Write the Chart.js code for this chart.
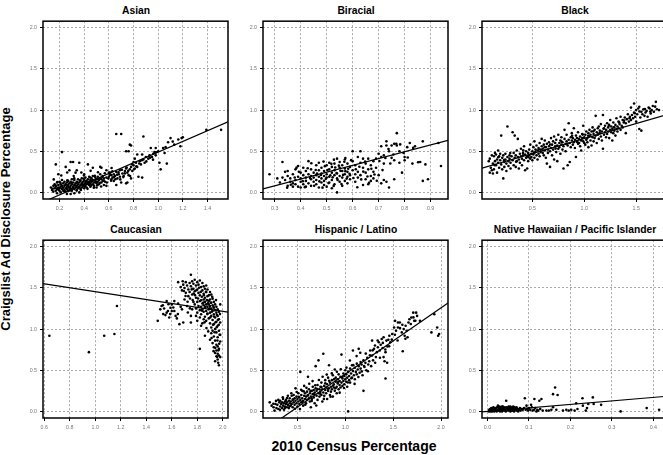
<!DOCTYPE html>
<html>
<head>
<meta charset="utf-8">
<script src="https://cdn.jsdelivr.net/npm/chart.js@4.4.0/dist/chart.umd.min.js"></script>
<style>
  body { margin: 0; width: 663px; height: 455px; overflow: hidden; background: #fff; position: relative;
         font-family: "Liberation Sans", Arial, sans-serif; }
  canvas { position: absolute; }
  .title { position: absolute; width: 186px; text-align: center; font-weight: bold; font-size: 10.3px; line-height: 12px; white-space: nowrap; }
  .xlab { position: absolute; left: 0; width: 708px; top: 438px; text-align: center; font-weight: bold; font-size: 14px; line-height: 16px; }
  .ylab { position: absolute; width: 400px; height: 16px; left: -194.5px; top: 211px; text-align: center; font-weight: bold;
          font-size: 13px; line-height: 16px; transform: rotate(-90deg); white-space: nowrap; }
</style>
</head>
<body>
<script>
// points: [census %, ad disclosure %]
const asianPts = [
  [0.13,0.06],[0.14,0.03],[0.15,0.08],[0.15,0.01],[0.16,0.05],[0.16,0.10],[0.17,0.02],[0.17,0.07],[0.18,0.04],[0.18,0.12],
  [0.18,-0.01],[0.19,0.06],[0.19,0.09],[0.20,0.02],[0.20,0.05],[0.20,0.13],[0.21,0.07],[0.21,0.00],[0.21,0.10],[0.22,0.04],
  [0.22,0.08],[0.22,0.15],[0.23,0.02],[0.23,0.06],[0.23,0.11],[0.24,0.03],[0.24,0.08],[0.24,0.13],[0.25,0.05],[0.25,0.10],
  [0.25,0.01],[0.26,0.07],[0.26,0.12],[0.26,0.04],[0.27,0.09],[0.27,0.02],[0.27,0.14],[0.28,0.06],[0.28,0.11],[0.28,0.03],
  [0.29,0.08],[0.29,0.13],[0.29,0.05],[0.30,0.10],[0.30,0.02],[0.30,0.16],[0.26,-0.02],[0.32,-0.01],[0.36,0.00],[0.29,-0.02],
  [0.31,0.07],[0.31,0.12],[0.32,0.04],[0.32,0.09],[0.32,0.15],[0.33,0.06],[0.33,0.11],[0.34,0.03],[0.34,0.13],[0.34,0.08],
  [0.35,0.10],[0.35,0.05],[0.35,0.16],[0.36,0.07],[0.36,0.12],[0.37,0.09],[0.37,0.04],[0.37,0.14],[0.38,0.11],[0.38,0.06],
  [0.38,0.17],[0.39,0.08],[0.39,0.13],[0.40,0.10],[0.40,0.05],[0.40,0.15],[0.41,0.12],[0.41,0.08],[0.41,0.18],[0.42,0.10],
  [0.42,0.14],[0.42,0.06],[0.43,0.12],[0.43,0.16],[0.44,0.09],[0.44,0.13],[0.44,0.19],[0.45,0.11],[0.45,0.15],[0.45,0.07],
  [0.46,0.13],[0.46,0.17],[0.47,0.10],[0.47,0.15],[0.47,0.20],[0.48,0.12],[0.48,0.08],[0.49,0.14],[0.49,0.18],[0.50,0.11],
  [0.50,0.16],[0.50,0.06],[0.51,0.13],[0.51,0.19],[0.52,0.15],[0.52,0.10],[0.53,0.17],[0.53,0.22],[0.54,0.12],[0.54,0.16],
  [0.55,0.14],[0.55,0.20],[0.56,0.09],[0.56,0.17],[0.57,0.13],[0.58,0.18],[0.58,0.08],[0.60,0.19],[0.61,0.24],[0.62,0.16],
  [0.62,0.21],[0.63,0.18],[0.64,0.22],[0.64,0.14],[0.65,0.20],[0.66,0.25],[0.66,0.09],[0.67,0.17],[0.68,0.22],[0.69,0.19],
  [0.69,0.27],[0.70,0.12],[0.71,0.23],[0.72,0.20],[0.73,0.26],[0.74,0.11],[0.74,0.29],[0.75,0.24],[0.76,0.21],[0.77,0.28],
  [0.78,0.31],[0.79,0.26],[0.80,0.33],[0.81,0.29],[0.82,0.36],[0.83,0.31],[0.84,0.19],[0.85,0.38],[0.86,0.34],[0.87,0.18],
  [0.88,0.40],[0.89,0.36],[0.90,0.43],[0.92,0.41],[0.93,0.45],[0.95,0.43],[0.96,0.47],[0.97,0.49],[0.98,0.45],[1.00,0.50],
  [1.01,0.36],[1.02,0.28],[1.04,0.54],[1.07,0.35],[1.06,0.55],[1.08,0.61],[1.10,0.66],[1.13,0.58],[1.18,0.56],[1.19,0.66],
  [1.20,0.67],[1.39,0.76],[1.51,0.76],[0.17,0.34],[0.22,0.49],[0.19,0.22],[0.25,0.31],[0.28,0.27],[0.29,0.37],[0.31,0.37],
  [0.33,0.24],[0.34,0.27],[0.36,0.36],[0.40,0.22],[0.43,0.34],[0.47,0.30],[0.53,0.31],[0.54,0.30],[0.58,0.27],[0.60,0.24],
  [0.66,0.71],[0.70,0.71],[0.88,0.68],[0.78,0.57],[0.77,0.58],[0.74,0.50],[0.76,0.50],[0.83,0.46],[0.87,0.46],[0.94,0.54],
  [0.98,0.54],[0.80,0.37],[0.81,0.41],[0.75,0.12],[0.78,0.17],
  [0.143,0.045],[0.167,0.088],[0.192,0.031],[0.207,0.118],[0.226,0.057],[0.238,0.019],[0.251,0.093],[0.263,0.146],[0.274,0.061],[0.286,0.024],
  [0.297,0.117],[0.308,0.052],[0.319,0.171],[0.327,0.084],[0.339,0.022],[0.346,0.121],[0.358,0.064],[0.366,0.147],[0.373,0.029],[0.384,0.092],
  [0.396,0.168],[0.404,0.071],[0.413,0.135],[0.427,0.043],[0.436,0.104],[0.448,0.182],[0.457,0.085],[0.466,0.139],[0.478,0.057],[0.486,0.201],
  [0.497,0.126],[0.507,0.088],[0.516,0.162],[0.528,0.118],[0.537,0.071],[0.546,0.189],[0.559,0.143],[0.567,0.232],[0.584,0.121],[0.596,0.168],
  [0.607,0.213],[0.618,0.142],[0.629,0.257],[0.641,0.186],[0.653,0.161],[0.667,0.214],[0.678,0.243],[0.693,0.158],[0.706,0.276],[0.717,0.186],
  [0.729,0.231],[0.744,0.302],[0.757,0.262],[0.772,0.199],[0.788,0.344],[0.804,0.281],[0.823,0.318],[0.846,0.352],[0.867,0.392],[0.904,0.377],
  [0.934,0.422],[0.958,0.398],[0.982,0.488],[1.052,0.479],[1.118,0.617],[1.163,0.642],[0.214,0.205],[0.262,0.241],[0.377,0.241],[0.452,0.262],
  [0.512,0.245],[0.153,0.158],[0.183,0.127],[0.315,0.198],[0.398,0.205],[0.622,0.297]
];

const biracialPts = [
  [0.28,0.22],[0.31,0.17],[0.32,0.12],[0.33,0.37],[0.33,0.18],[0.34,0.15],[0.34,0.25],[0.35,0.08],[0.35,0.20],[0.35,0.26],
  [0.36,0.13],[0.36,0.17],[0.37,0.07],[0.37,0.22],[0.37,0.11],[0.38,0.15],[0.38,0.28],[0.38,0.10],[0.39,0.07],[0.39,0.19],
  [0.39,0.32],[0.40,0.13],[0.40,0.24],[0.40,0.06],[0.40,0.17],[0.41,0.30],[0.41,0.10],[0.41,0.21],[0.42,0.14],[0.42,0.26],
  [0.42,0.07],[0.42,0.18],[0.43,0.38],[0.43,0.22],[0.43,0.11],[0.44,0.16],[0.44,0.28],[0.44,0.20],[0.44,0.08],[0.45,0.13],
  [0.45,0.24],[0.45,0.18],[0.46,0.33],[0.46,0.10],[0.46,0.21],[0.46,0.15],[0.47,0.27],[0.47,0.06],[0.47,0.19],[0.47,0.36],
  [0.48,0.12],[0.48,0.23],[0.48,0.17],[0.48,0.30],[0.49,0.09],[0.49,0.20],[0.49,0.26],[0.49,0.14],[0.50,0.33],[0.50,0.18],
  [0.50,0.22],[0.50,0.07],[0.51,0.28],[0.51,0.12],[0.51,0.36],[0.51,0.19],[0.52,0.24],[0.52,0.15],[0.52,0.31],[0.52,0.05],
  [0.53,0.21],[0.53,0.35],[0.53,0.10],[0.53,0.27],[0.54,0.17],[0.54,0.41],[0.54,0.00],[0.54,0.23],[0.55,0.30],[0.55,0.13],
  [0.55,0.37],[0.55,0.20],[0.56,0.26],[0.56,0.08],[0.56,0.33],[0.56,0.18],[0.57,0.22],[0.57,0.40],[0.57,0.14],[0.57,0.29],
  [0.58,0.19],[0.58,0.35],[0.58,0.25],[0.58,0.11],[0.59,0.31],[0.59,0.21],[0.59,0.16],[0.60,0.27],[0.60,0.50],[0.60,0.38],
  [0.61,0.22],[0.61,0.13],[0.61,0.33],[0.62,0.43],[0.62,0.25],[0.62,0.18],[0.63,0.50],[0.63,0.36],[0.63,0.21],[0.64,0.30],
  [0.64,0.09],[0.64,0.41],[0.65,0.24],[0.65,0.35],[0.65,0.16],[0.66,0.41],[0.66,0.28],[0.66,0.10],[0.67,0.20],[0.67,0.33],
  [0.67,0.14],[0.68,0.38],[0.68,0.25],[0.68,0.17],[0.69,0.30],[0.69,0.41],[0.70,0.21],[0.70,0.47],[0.71,0.43],[0.71,0.11],
  [0.71,0.56],[0.72,0.35],[0.72,0.15],[0.72,0.45],[0.73,0.62],[0.73,0.57],[0.73,0.13],[0.74,0.06],[0.74,0.50],[0.75,0.57],
  [0.75,0.42],[0.76,0.39],[0.76,0.16],[0.76,0.59],[0.77,0.72],[0.77,0.57],[0.78,0.36],[0.78,0.50],[0.79,0.24],[0.80,0.43],
  [0.80,0.39],[0.81,0.55],[0.82,0.60],[0.83,0.35],[0.84,0.56],[0.86,0.37],[0.87,0.62],[0.87,0.14],[0.88,0.34],[0.89,0.16],
  [0.93,0.60],[0.94,0.32],
  [0.362,0.094],[0.377,0.182],[0.393,0.251],[0.408,0.137],[0.416,0.064],[0.427,0.293],[0.436,0.175],[0.452,0.081],[0.458,0.272],[0.463,0.229],
  [0.472,0.134],[0.478,0.213],[0.484,0.058],[0.493,0.319],[0.497,0.165],[0.503,0.271],[0.507,0.113],[0.514,0.208],[0.518,0.347],[0.523,0.183],
  [0.527,0.079],[0.533,0.302],[0.538,0.236],[0.542,0.152],[0.547,0.325],[0.553,0.262],[0.557,0.101],[0.563,0.213],[0.568,0.372],[0.572,0.258],
  [0.577,0.168],[0.583,0.288],[0.588,0.226],[0.594,0.392],[0.603,0.175],[0.612,0.281],[0.618,0.062],[0.626,0.312],[0.633,0.158],[0.641,0.253],
  [0.648,0.374],[0.657,0.194],[0.663,0.116],[0.672,0.287],[0.684,0.218],[0.693,0.142],[0.703,0.381],[0.715,0.271],[0.726,0.418],[0.738,0.527],
  [0.745,0.352],[0.757,0.461],[0.768,0.592],[0.783,0.583],[0.796,0.478],[0.812,0.425],[0.833,0.541],[0.852,0.367],[0.348,0.058],[0.384,0.301],
  [0.441,0.354],[0.488,0.374],[0.528,0.398],[0.572,0.418]
];

const blackPts = [
  [0.08,0.38],[0.09,0.24],[0.09,0.41],[0.10,0.30],[0.11,0.27],[0.11,0.45],[0.12,0.35],[0.12,0.23],[0.13,0.44],[0.13,0.28],
  [0.14,0.38],[0.14,0.48],[0.15,0.33],[0.15,0.46],[0.16,0.24],[0.16,0.40],[0.17,0.51],[0.17,0.36],[0.18,0.44],[0.18,0.30],
  [0.19,0.47],[0.19,0.39],[0.20,0.69],[0.20,0.34],[0.21,0.42],[0.21,0.28],[0.22,0.17],[0.22,0.45],[0.23,0.37],[0.23,0.31],
  [0.24,0.40],[0.24,0.47],[0.25,0.35],[0.25,0.26],[0.26,0.80],[0.26,0.43],[0.27,0.38],[0.27,0.32],[0.28,0.45],[0.28,0.41],
  [0.29,0.29],[0.29,0.36],[0.30,0.44],[0.31,0.73],[0.31,0.39],[0.32,0.33],[0.32,0.48],[0.33,0.69],[0.33,0.42],[0.34,0.31],
  [0.34,0.45],[0.35,0.38],[0.35,0.51],[0.36,0.65],[0.36,0.43],[0.37,0.40],[0.37,0.29],[0.38,0.47],[0.38,0.36],[0.39,0.44],
  [0.39,0.53],[0.40,0.41],[0.40,0.33],[0.41,0.48],[0.41,0.45],[0.42,0.39],[0.42,0.56],[0.43,0.27],[0.43,0.46],[0.44,0.42],
  [0.44,0.50],[0.45,0.29],[0.45,0.44],[0.46,0.48],[0.46,0.38],[0.47,0.52],[0.47,0.45],[0.48,0.41],[0.48,0.58],[0.49,0.47],
  [0.49,0.43],[0.50,0.50],[0.50,0.39],[0.51,0.55],[0.51,0.46],[0.52,0.42],[0.52,0.62],[0.53,0.49],[0.53,0.52],[0.54,0.45],
  [0.54,0.57],[0.55,0.40],[0.55,0.51],[0.56,0.54],[0.56,0.47],[0.57,0.60],[0.57,0.44],[0.58,0.52],[0.58,0.49],[0.59,0.56],
  [0.59,0.65],[0.60,0.48],[0.60,0.53],[0.61,0.58],[0.61,0.45],[0.62,0.51],[0.62,0.63],[0.63,0.55],[0.63,0.42],[0.64,0.35],
  [0.64,0.59],[0.65,0.52],[0.65,0.48],[0.66,0.61],[0.66,0.56],[0.67,0.31],[0.67,0.50],[0.68,0.66],[0.68,0.54],[0.69,0.58],
  [0.69,0.45],[0.70,0.62],[0.70,0.52],[0.71,0.68],[0.71,0.40],[0.72,0.56],[0.72,0.60],[0.73,0.49],[0.73,0.64],[0.74,0.57],
  [0.74,0.38],[0.75,0.53],[0.75,0.70],[0.76,0.60],[0.76,0.55],[0.77,0.47],[0.77,0.63],[0.78,0.58],[0.78,0.67],[0.79,0.52],
  [0.79,0.61],[0.80,0.29],[0.80,0.56],[0.81,0.65],[0.81,0.76],[0.82,0.59],[0.82,0.50],[0.83,0.62],[0.83,0.70],[0.84,0.57],
  [0.84,0.33],[0.85,0.64],[0.85,0.84],[0.86,0.60],[0.86,0.37],[0.87,0.67],[0.87,0.55],[0.88,0.63],[0.88,0.72],[0.89,0.58],
  [0.89,0.66],[0.90,0.61],[0.90,0.78],[0.91,0.64],[0.91,0.54],[0.92,0.69],[0.92,0.43],[0.93,0.62],[0.93,0.66],[0.94,0.59],
  [0.94,0.73],[0.95,0.65],[0.95,0.60],[0.96,0.68],[0.96,0.56],[0.97,0.63],[0.97,0.51],[0.98,0.71],[0.98,0.66],[0.99,0.62],
  [0.99,0.81],[1.00,0.67],[1.00,0.60],[1.01,0.70],[1.01,0.58],[1.02,0.64],[1.02,0.74],[1.03,0.66],[1.03,0.61],[1.04,0.72],
  [1.04,0.55],[1.05,0.68],[1.05,0.76],[1.06,0.63],[1.06,0.70],[1.07,0.57],[1.07,0.74],[1.08,0.67],[1.08,0.79],[1.09,0.71],
  [1.09,0.62],[1.10,0.76],[1.10,0.66],[1.11,0.93],[1.11,0.69],[1.12,0.73],[1.12,0.60],[1.13,0.78],[1.13,0.70],[1.14,0.65],
  [1.14,0.80],[1.15,0.72],[1.15,0.75],[1.16,0.68],[1.16,0.83],[1.17,0.74],[1.17,0.63],[1.18,0.94],[1.18,0.53],[1.19,0.78],
  [1.19,0.70],[1.20,0.81],[1.20,0.73],[1.21,0.67],[1.21,0.76],[1.22,0.84],[1.22,0.71],[1.23,0.79],[1.23,0.74],[1.24,0.66],
  [1.24,0.82],[1.25,0.76],[1.25,0.88],[1.26,0.73],[1.26,0.80],[1.27,0.63],[1.27,0.77],[1.28,0.85],[1.28,0.72],[1.29,0.79],
  [1.29,0.75],[1.30,0.82],[1.30,0.69],[1.31,0.77],[1.31,0.90],[1.32,0.80],[1.32,0.74],[1.33,0.86],[1.33,0.78],[1.34,0.83],
  [1.35,0.76],[1.35,0.92],[1.36,0.81],[1.37,0.88],[1.37,0.79],[1.38,0.85],[1.39,0.91],[1.40,0.72],[1.40,0.84],[1.41,0.89],
  [1.42,0.95],[1.43,0.86],[1.44,0.92],[1.45,1.03],[1.45,0.88],[1.46,0.94],[1.47,0.90],[1.48,1.08],[1.48,0.97],[1.49,0.92],
  [1.50,1.00],[1.50,0.86],[1.51,0.95],[1.52,1.02],[1.53,1.04],[1.53,0.77],[1.54,0.91],[1.55,0.75],[1.55,0.98],[1.56,0.95],
  [1.57,1.01],[1.58,0.93],[1.59,0.97],[1.60,0.99],[1.61,0.92],[1.62,1.03],[1.63,1.02],[1.64,0.96],[1.65,1.00],[1.66,1.05],
  [1.67,0.98],[1.69,1.10],[1.70,1.01],[1.72,1.00],
  [0.136,0.332],[0.172,0.428],[0.228,0.392],[0.287,0.478],[0.343,0.372],[0.412,0.512],[0.463,0.428],[0.517,0.482],[0.563,0.522],[0.618,0.548],
  [0.672,0.582],[0.724,0.532],[0.781,0.618],[0.836,0.592],[0.883,0.688],[0.932,0.612],[0.986,0.702],[1.038,0.688],[1.087,0.742],[1.136,0.712],
  [1.186,0.772],[1.238,0.812],[1.283,0.792],[1.336,0.852],[1.384,0.872],[1.436,0.902],[1.486,0.962],[1.532,0.982],[1.584,1.012],[1.636,0.982],
  [1.683,1.042]
];

const caucasianPts = [
  [0.64,0.92],[0.95,0.72],[1.07,0.92],[1.15,0.94],[1.17,1.28],
  [1.49,1.10],[1.51,1.24],[1.53,1.29],[1.54,1.25],[1.55,1.17],[1.56,1.34],[1.57,1.22],[1.58,1.14],[1.59,1.26],[1.60,1.22],
  [1.62,1.34],[1.62,1.22],[1.63,1.16],[1.64,1.13],[1.66,1.06],[1.69,1.08],[1.70,1.36],[1.72,1.28],[1.75,1.08],[1.75,1.16],
  [1.76,1.24],[1.77,1.33],[1.52,1.28],[1.56,1.20],[1.60,1.30],[1.65,1.31],[1.67,1.27],[1.68,1.24],
  [1.65,1.57],[1.67,1.51],[1.68,1.47],[1.69,1.54],[1.70,1.50],[1.71,1.44],[1.71,1.57],[1.72,1.53],[1.73,1.48],[1.73,1.40],
  [1.74,1.56],[1.74,1.45],[1.75,1.66],[1.75,1.52],[1.76,1.58],[1.76,1.42],[1.77,1.49],[1.77,1.55],[1.78,1.60],[1.78,1.46],
  [1.79,1.53],[1.79,1.38],[1.80,1.57],[1.80,1.48],[1.81,1.44],[1.81,1.54],[1.82,1.59],[1.82,1.41],[1.83,1.51],[1.83,1.35],
  [1.84,1.47],[1.84,1.56],[1.85,1.43],[1.85,1.52],[1.86,1.38],[1.86,1.49],[1.87,1.45],[1.87,1.53],[1.88,1.40],[1.88,1.48],
  [1.89,1.34],[1.90,1.45],[1.91,1.42],
  [1.78,1.30],[1.79,1.25],[1.80,1.33],[1.80,1.20],[1.81,1.28],[1.82,1.23],[1.82,1.34],[1.83,1.27],[1.83,1.18],[1.84,1.31],
  [1.84,1.24],[1.85,1.36],[1.85,1.21],[1.85,1.29],[1.86,1.26],[1.86,1.15],[1.86,1.33],[1.87,1.22],[1.87,1.30],[1.87,1.10],
  [1.88,1.27],[1.88,1.19],[1.88,1.35],[1.89,1.24],[1.89,1.30],[1.89,1.13],[1.90,1.28],[1.90,1.20],[1.90,1.36],[1.90,1.07],
  [1.91,1.25],[1.91,1.32],[1.91,1.16],[1.91,1.02],[1.92,1.29],[1.92,1.22],[1.92,1.11],[1.92,1.37],[1.93,1.26],[1.93,1.18],
  [1.93,1.06],[1.93,1.33],[1.94,1.23],[1.94,1.14],[1.94,1.00],[1.94,1.30],[1.95,1.20],[1.95,1.09],[1.95,1.27],[1.95,0.96],
  [1.96,1.16],[1.96,1.24],[1.96,1.04],[1.96,0.90],[1.97,1.12],[1.97,1.21],[1.97,0.98],[1.98,1.08],[1.98,1.30],
  [1.86,0.92],[1.82,0.76],[1.90,0.87],[1.91,0.95],[1.92,0.83],[1.92,0.98],[1.93,0.78],[1.93,0.91],[1.94,0.71],[1.94,0.86],
  [1.94,0.61],[1.95,0.81],[1.95,0.74],[1.95,0.67],[1.96,0.79],[1.96,0.70],[1.96,0.63],[1.97,0.56],[1.97,0.76],[1.97,0.68],
  [1.98,0.66],[1.98,0.85],[1.98,0.93],[1.80,1.10],[1.82,1.14],[1.84,1.07],[1.85,1.12],[1.83,1.04],[1.79,1.16],
  [1.782,1.412],[1.793,1.472],[1.806,1.372],[1.814,1.502],[1.827,1.452],[1.836,1.392],[1.848,1.322],[1.852,1.412],[1.863,1.272],[1.868,1.452],
  [1.874,1.352],[1.879,1.182],[1.884,1.312],[1.893,1.412],[1.897,1.252],[1.902,1.142],[1.906,1.322],[1.914,1.212],[1.917,1.392],[1.923,1.052],
  [1.927,1.272],[1.932,1.152],[1.936,0.962],[1.938,1.232],[1.943,1.082],[1.947,1.352],[1.952,1.022],[1.954,1.172],[1.958,0.862],[1.962,1.112],
  [1.966,0.742],[1.969,1.052],[1.972,0.822],[1.975,0.932],[1.978,1.182],[1.743,1.372],[1.756,1.482],[1.764,1.352],[1.772,1.432],[1.724,1.332],
  [1.708,1.402],[1.694,1.462],[1.686,1.582],[1.838,1.222],[1.857,1.082],[1.872,1.012],[1.886,0.972],[1.912,0.892],[1.928,0.732],[1.941,0.772],
  [1.956,0.662],[1.964,0.592],[1.588,1.182],[1.612,1.262],[1.648,1.182],[1.726,1.202],[1.742,1.252],[1.574,1.302],[1.533,1.182]
];

const hispanicPts = [
  [0.21,0.11],[0.23,0.07],[0.25,0.05],[0.26,0.01],[0.27,0.09],[0.28,0.04],[0.29,0.08],[0.30,0.14],[0.30,0.03],[0.31,0.11],
  [0.32,0.06],[0.32,0.13],[0.33,0.09],[0.34,0.04],[0.34,0.11],[0.35,0.15],[0.35,0.07],[0.36,0.10],[0.36,0.02],[0.37,0.12],
  [0.37,0.06],[0.38,0.09],[0.38,0.14],[0.39,0.05],[0.39,0.11],[0.40,0.08],[0.40,0.19],[0.41,0.13],[0.41,0.04],[0.42,0.10],
  [0.42,0.16],[0.43,0.07],[0.43,0.12],[0.44,0.19],[0.44,0.09],[0.45,0.14],[0.45,0.05],[0.46,0.11],[0.46,0.20],[0.47,0.16],
  [0.47,0.08],[0.48,0.13],[0.48,0.28],[0.49,0.10],[0.49,0.18],[0.50,0.15],[0.50,0.06],[0.51,0.12],[0.51,0.22],[0.52,0.17],
  [0.52,0.09],[0.53,0.14],[0.53,0.48],[0.54,0.20],[0.54,0.11],[0.55,0.16],[0.55,0.25],[0.56,0.13],[0.56,0.07],[0.57,0.19],
  [0.57,0.31],[0.58,0.15],[0.58,0.22],[0.59,0.10],[0.59,0.18],[0.60,0.24],[0.60,0.14],[0.61,0.20],[0.61,0.42],[0.62,0.16],
  [0.62,0.27],[0.63,0.12],[0.63,0.22],[0.64,0.18],[0.64,0.05],[0.65,0.25],[0.65,0.15],[0.66,0.21],[0.66,0.30],[0.67,0.17],
  [0.67,0.26],[0.68,0.23],[0.68,0.10],[0.69,0.28],[0.69,0.55],[0.70,0.19],[0.70,0.25],[0.71,0.32],[0.71,0.14],[0.72,0.62],
  [0.72,0.22],[0.73,0.27],[0.73,0.18],[0.74,0.30],[0.74,0.24],[0.75,0.20],[0.75,0.35],[0.76,0.27],[0.76,0.12],[0.77,0.70],
  [0.77,0.23],[0.78,0.31],[0.78,0.19],[0.79,0.26],[0.79,0.38],[0.80,0.22],[0.80,0.29],[0.81,0.33],[0.81,0.15],[0.82,0.25],
  [0.82,0.41],[0.83,0.28],[0.83,0.56],[0.84,0.20],[0.84,0.35],[0.85,0.30],[0.85,0.24],[0.86,0.38],[0.86,0.27],[0.87,0.44],
  [0.87,0.18],[0.88,0.33],[0.88,0.29],[0.89,0.51],[0.89,0.25],[0.90,0.36],[0.90,0.41],[0.91,0.30],[0.91,0.22],[0.92,0.39],
  [0.92,0.34],[0.93,0.45],[0.93,0.27],[0.94,0.37],[0.94,0.32],[0.95,0.42],[0.95,0.29],[0.96,0.69],[0.96,0.35],[0.97,0.40],
  [0.97,0.31],[0.98,0.46],[0.98,0.37],[0.99,0.33],[0.99,0.43],[1.00,0.39],[1.00,0.50],[1.01,0.36],[1.01,0.45],[1.02,0.41],
  [1.02,0.30],[1.03,0.00],[1.03,0.48],[1.04,0.43],[1.04,0.38],[1.05,0.52],[1.05,0.35],[1.06,0.46],[1.07,0.41],[1.07,0.56],
  [1.08,0.74],[1.08,0.49],[1.09,0.44],[1.10,0.53],[1.10,0.39],[1.11,0.48],[1.12,0.58],[1.12,0.45],[1.13,0.51],[1.14,0.76],
  [1.14,0.55],[1.15,0.47],[1.16,0.60],[1.16,0.52],[1.17,0.57],[1.18,0.44],[1.19,0.25],[1.19,0.62],[1.20,0.54],[1.21,0.59],
  [1.22,0.50],[1.23,0.65],[1.24,0.57],[1.25,0.61],[1.26,0.74],[1.27,0.55],[1.28,0.86],[1.28,0.68],[1.29,0.62],[1.30,0.76],
  [1.31,0.80],[1.32,0.66],[1.33,0.72],[1.34,0.78],[1.35,0.84],[1.36,0.74],[1.37,0.81],[1.38,0.88],[1.39,0.77],[1.40,0.66],
  [1.40,0.90],[1.41,0.61],[1.42,0.40],[1.42,0.72],[1.43,0.86],[1.44,0.79],[1.45,0.87],[1.46,0.92],[1.47,0.84],[1.49,0.94],
  [1.51,1.02],[1.52,1.10],[1.53,0.98],[1.55,1.08],[1.55,1.02],[1.57,1.08],[1.59,0.96],[1.60,0.73],[1.61,1.00],[1.62,0.92],
  [1.63,1.04],[1.64,0.98],[1.65,0.90],[1.66,1.08],[1.67,1.12],[1.69,1.14],[1.71,1.20],[1.72,1.10],[1.74,1.20],[1.75,1.16],
  [1.78,1.10],[1.90,0.96],[1.93,1.18],[1.96,1.02],[1.98,0.94],[1.97,0.92],
  [0.248,0.093],[0.276,0.128],[0.318,0.021],[0.347,0.172],[0.368,0.041],[0.392,0.163],[0.418,0.062],[0.436,0.221],[0.456,0.148],[0.473,0.032],
  [0.492,0.236],[0.514,0.177],[0.526,0.028],[0.538,0.262],[0.553,0.119],[0.566,0.243],[0.582,0.081],[0.594,0.286],[0.608,0.192],[0.623,0.336],
  [0.637,0.246],[0.649,0.128],[0.658,0.368],[0.674,0.212],[0.686,0.318],[0.697,0.071],[0.709,0.273],[0.724,0.382],[0.738,0.216],[0.751,0.296],
  [0.763,0.421],[0.776,0.152],[0.791,0.342],[0.806,0.447],[0.818,0.276],[0.831,0.372],[0.846,0.178],[0.859,0.462],[0.873,0.312],[0.884,0.392],
  [0.897,0.282],[0.912,0.482],[0.926,0.358],[0.941,0.228],[0.953,0.512],[0.968,0.418],[0.986,0.284],[1.012,0.532],[1.026,0.352],[1.048,0.618],
  [1.064,0.402],[1.083,0.562],[1.097,0.334],[1.118,0.672],[1.137,0.418],[1.156,0.712],[1.172,0.486],[1.196,0.552],[1.214,0.702],[1.236,0.488],
  [1.257,0.682],[1.286,0.742],[1.312,0.592],[1.338,0.862],[1.362,0.652],[1.392,0.832],[1.418,0.752],[1.437,0.592],[1.458,0.792],[1.486,0.872],
  [1.518,0.932],[1.546,0.862],[1.572,1.012],[1.596,1.052],[1.628,0.882],[1.684,1.062],[1.712,1.142],[1.732,1.102]
];

const nhpiPts = [
  [0.003,0.00],[0.004,0.02],[0.005,0.01],[0.006,0.03],[0.007,0.00],[0.008,0.02],[0.009,0.04],[0.010,0.01],[0.011,0.00],[0.012,0.03],
  [0.013,0.02],[0.014,0.05],[0.015,0.01],[0.016,0.00],[0.017,0.03],[0.018,0.02],[0.019,0.04],[0.020,0.01],[0.021,0.03],[0.022,0.00],
  [0.023,0.05],[0.024,0.02],[0.025,0.07],[0.026,0.01],[0.027,0.04],[0.028,0.02],[0.029,0.06],[0.030,0.03],[0.031,0.01],[0.032,0.05],
  [0.033,0.02],[0.034,0.04],[0.035,0.00],[0.036,0.03],[0.037,0.06],[0.038,0.02],[0.039,0.04],[0.040,0.01],[0.041,0.03],[0.042,0.05],
  [0.043,0.02],[0.044,0.00],[0.045,0.13],[0.046,0.03],[0.047,0.05],[0.048,0.02],[0.049,0.04],[0.050,0.01],[0.051,0.06],[0.052,0.03],
  [0.053,0.02],[0.054,0.04],[0.055,0.00],[0.056,0.05],[0.057,0.03],[0.058,0.01],[0.060,0.04],[0.061,0.02],[0.062,0.06],[0.063,0.03],
  [0.064,0.00],[0.065,0.05],[0.066,0.02],[0.068,0.04],[0.070,0.01],[0.072,0.03],[0.074,0.00],[0.076,0.02],[0.078,0.04],[0.080,0.01],
  [0.082,0.03],[0.085,0.02],[0.088,0.04],[0.090,0.16],[0.092,0.02],[0.094,0.07],[0.096,0.03],[0.098,0.01],[0.100,0.04],[0.103,0.02],
  [0.105,0.08],[0.107,0.05],[0.109,0.01],[0.112,0.02],[0.113,0.15],[0.115,0.04],[0.118,0.00],[0.120,0.02],[0.122,0.01],[0.125,0.13],
  [0.127,0.03],[0.130,0.15],[0.133,0.01],[0.142,0.01],[0.148,0.01],[0.154,0.02],[0.158,0.05],[0.158,0.21],[0.163,0.29],[0.166,0.02],
  [0.169,0.20],[0.182,0.01],[0.190,0.02],[0.196,0.01],[0.202,0.02],[0.210,0.01],[0.214,0.10],[0.217,0.03],[0.229,0.16],[0.230,0.07],
  [0.237,0.01],[0.240,0.04],[0.243,0.09],[0.254,0.17],[0.256,0.09],[0.274,0.08],[0.321,0.00],[0.384,0.04],[0.414,0.02],
  [0.015,0.04],[0.020,0.02],[0.030,0.00],[0.035,0.06],[0.050,0.03],[0.055,0.06],[0.060,0.01],[0.065,0.03],[0.070,0.05],[0.075,0.02],
  [0.028,0.05]
];

const panelTitles = ['Asian', 'Biracial', 'Black', 'Caucasian', 'Hispanic / Latino', 'Native Hawaiian / Pacific Islander'];
const panelPoints = [asianPts, biracialPts, blackPts, caucasianPts, hispanicPts, nhpiPts];

// fitted lines: y = intercept + slope * x
const fitIntercepts = [-0.16, -0.17, 0.29, 1.694, -0.35, 0.0];
const fitSlopes = [0.65, 0.83, 0.365, -0.239, 0.804, 0.425];

// x ranges and tick labels per panel
const xMins = [0.066, 0.255, 0.015, 0.59, 0.14, -0.0134];
const xMaxs = [1.566, 0.967, 1.797, 2.041, 2.073, 0.433];
const xTickVals = [
  [0.2, 0.4, 0.6, 0.8, 1.0, 1.2, 1.4],
  [0.3, 0.4, 0.5, 0.6, 0.7, 0.8, 0.9],
  [0.5, 1.0, 1.5],
  [0.6, 0.8, 1.0, 1.2, 1.4, 1.6, 1.8, 2.0],
  [0.5, 1.0, 1.5, 2.0],
  [0.0, 0.1, 0.2, 0.3, 0.4]
];
const yTickVals = [0.0, 0.5, 1.0, 1.5, 2.0];
const yMin = -0.08, yMax = 2.08;

// page layout
const colLeft = [43, 263, 482];
const rowTop = [18, 237];
const boxW = 186, boxH = 181;
const padL = 26, padT = 3, padR = 3, padB = 16;

const framePlugin = {
  id: 'frame',
  afterDraw(chart) {
    const { ctx, chartArea: a } = chart;
    ctx.save();
    ctx.strokeStyle = '#000';
    ctx.lineWidth = 1.5;
    ctx.strokeRect(a.left, a.top, a.right - a.left, a.bottom - a.top);
    ctx.restore();
  }
};

const tickFont = { family: 'Liberation Sans', size: 5.3 };

panelTitles.forEach((title, i) => {
  const col = i % 3, row = Math.floor(i / 3);
  const left = colLeft[col], top = rowTop[row];

  const t = document.createElement('div');
  t.className = 'title';
  t.textContent = title;
  t.style.left = left + 'px';
  t.style.top = (top - 13) + 'px';
  document.body.appendChild(t);

  const canvas = document.createElement('canvas');
  canvas.width = boxW + padL + padR;
  canvas.height = boxH + padT + padB;
  canvas.style.left = (left - padL) + 'px';
  canvas.style.top = (top - padT) + 'px';
  document.body.appendChild(canvas);

  const a = fitIntercepts[i], b = fitSlopes[i];
  const lo = xMins[i], hi = xMaxs[i];

  new Chart(canvas, {
    type: 'scatter',
    data: {
      datasets: [
        {
          data: panelPoints[i].map(p => ({ x: p[0], y: p[1] })),
          backgroundColor: '#000',
          borderWidth: 0,
          pointRadius: 1.3
        },
        {
          data: [{ x: lo, y: a + b * lo }, { x: hi, y: a + b * hi }],
          showLine: true,
          borderColor: '#000',
          borderWidth: 1.2,
          pointRadius: 0
        }
      ]
    },
    options: {
      responsive: false,
      animation: false,
      layout: { padding: { top: padT, right: padR, left: 0, bottom: 0 } },
      plugins: { legend: { display: false }, tooltip: { enabled: false } },
      scales: {
        x: {
          type: 'linear', min: lo, max: hi,
          afterBuildTicks: s => { s.ticks = xTickVals[i].map(v => ({ value: v })); },
          afterFit: s => { s.height = padB; },
          grid: { color: '#aaa', lineWidth: 1, tickLength: 3, tickColor: '#000', tickWidth: 1, tickBorderDash: [] },
          border: { display: false, dash: [2, 2] },
          ticks: { font: tickFont, color: '#777', padding: 3, autoSkip: false, maxRotation: 0,
                   callback: v => v.toFixed(1) }
        },
        y: {
          type: 'linear', min: yMin, max: yMax,
          afterBuildTicks: s => { s.ticks = yTickVals.map(v => ({ value: v })); },
          afterFit: s => { s.width = padL; },
          grid: { color: '#aaa', lineWidth: 1, tickLength: 3, tickColor: '#000', tickWidth: 1, tickBorderDash: [] },
          border: { display: false, dash: [2, 2] },
          ticks: { font: tickFont, color: '#777', padding: 3, autoSkip: false,
                   callback: v => v.toFixed(1) }
        }
      }
    },
    plugins: [framePlugin]
  });
});
</script>
<div class="ylab">Craigslist Ad Disclosure Percentage</div>
<div class="xlab">2010 Census Percentage</div>
</body>
</html>
